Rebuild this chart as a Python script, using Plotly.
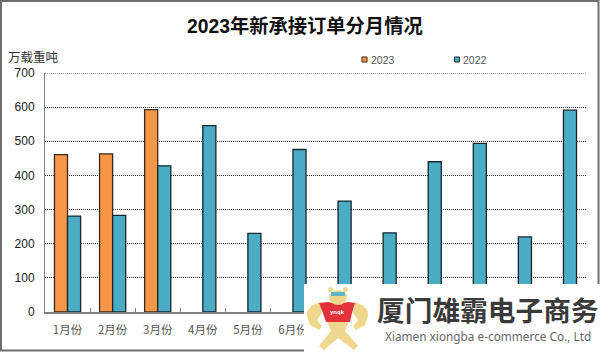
import plotly.graph_objects as go

months = ["1月份","2月份","3月份","4月份","5月份","6月份","7月份","8月份","9月份","10月份","11月份","12月份"]
tick_labels = ["1月份","2月份","3月份","4月份","5月份","6月份","","","","","",""]
y2023 = [461, 463, 593, None, None, None, None, None, None, None, None, None]
y2022 = [281, 283, 428, 546, 230, 476, 325, 232, 440, 494, 220, 591]
y_ticks = [0, 100, 200, 300, 400, 500, 600, 700]
title_text = "2023年新承接订单分月情况"
unit_text = "万载重吨"
brand_cn = "厦门雄霸电子商务"
brand_en = "Xiamen xiongba e-commerce Co., Ltd"
ORANGE, TEAL, EDGE = "#F79646", "#4BACC6", "#16262c"
CJK = "Noto Sans CJK SC"
W, H = 600, 352
L, R, T, B = 45, 586, 73, 312

def px(x): return (x - L) / (R - L)
def py(y): return (B - y) / (B - T)

def note(x, y, text, size, color, anchor="center", family="Liberation Sans, " + CJK, weight=None):
    return dict(xref="paper", yref="paper", x=px(x), y=py(y), text=text, showarrow=False,
                xanchor=anchor, yanchor="middle", font=dict(size=size, color=color, family=family, weight=weight))

def box(x0, y0, x1, y1, fill, line=None, lw=1, kind="rect", layer="above"):
    return dict(type=kind, xref="paper", yref="paper", x0=px(x0), x1=px(x1), y0=py(y0), y1=py(y1),
                fillcolor=fill, line=dict(color=line or fill, width=lw if line else 0), layer=layer)

def poly(points, fill):
    path = "M " + " L ".join(f"{px(a):.5f},{py(b):.5f}" for a, b in points) + " Z"
    return dict(type="path", xref="paper", yref="paper", path=path, fillcolor=fill, line=dict(width=0), layer="above")

fig = go.Figure()
fig.add_bar(name="2023", x=months, y=y2023, marker=dict(color=ORANGE, line=dict(color="#3a2a1c", width=1.3)))
fig.add_bar(name="2022", x=months, y=y2022, marker=dict(color=TEAL, line=dict(color=EDGE, width=1.3)))

BEAR, SHIRT = "#EFD88E", "#E4323A"
shapes = [
    dict(type="line", xref="paper", yref="y", x0=0, x1=1, y0=y_ticks[-1], y1=y_ticks[-1],
         line=dict(color="#333333", width=1, dash="1px,1px"), layer="below"),
    box(1, 1, 598.5, 350.5, "rgba(0,0,0,0)", "#6e6e6e", 2),
    box(362, 57, 367, 62, ORANGE, "#3a2a1c", 1),
    box(454.5, 57, 459.5, 62, TEAL, EDGE, 1),
    box(304, 284, 600, 352, "#ffffff"),
    # mascot legs and body
    poly([(327, 321), (349, 321), (345, 331), (358, 346), (354, 350), (338, 338), (324, 350), (319, 346), (331, 331)], BEAR),
    # arms
    poly([(320, 302), (311, 306), (307, 316), (310, 325), (319, 330), (322, 326), (317, 320), (322, 313)], BEAR),
    poly([(355, 302), (364, 306), (368, 316), (365, 325), (356, 330), (353, 326), (358, 320), (353, 313)], BEAR),
    box(307, 307, 318, 320, BEAR, kind="circle"),
    box(357, 307, 368, 320, BEAR, kind="circle"),
    # shirt
    poly([(319, 303), (328, 302), (338, 304), (348, 302), (355, 303), (352, 313), (350, 322), (326, 322), (323, 313)], SHIRT),
    # head
    box(329, 290, 347, 305, BEAR, kind="circle"),
    box(328, 287, 333, 292, BEAR, kind="circle"),
    box(343, 287, 348, 292, BEAR, kind="circle"),
    box(331, 292, 345, 296, "#5BB7C9"),
]
annotations = [
    note(305, 26, title_text, 19.3, "#111111", weight=700),
    note(6, 57, unit_text, 12.5, "#333333", anchor="left"),
    note(369, 60, "2023", 10.5, "#555555", anchor="left"),
    note(461, 60, "2022", 10.5, "#555555", anchor="left"),
    note(337, 312, "ynqk", 6, "#ffffff", weight=700),
    note(487.5, 309, brand_cn, 27.7, "#3a3a3a", family=CJK, weight=700),
    note(488, 336, brand_en, 11.8, "#666666", family="Noto Sans"),
]

fig.update_layout(
    width=W, height=H, margin=dict(l=L, r=W - R, t=T, b=H - B), autosize=False,
    paper_bgcolor="white", plot_bgcolor="white", showlegend=False,
    barmode="group", bargap=0.42, bargroupgap=0,
    font=dict(family="Liberation Sans, " + CJK, color="#222222"),
    xaxis=dict(type="category", categoryorder="array", categoryarray=months, tickson="boundaries",
               tickmode="array", tickvals=months, ticktext=tick_labels, ticklabelstandoff=6,
               ticks="inside", ticklen=4, tickcolor="#808080", showline=True, linecolor="#808080",
               linewidth=1.5, showgrid=False, tickfont=dict(size=11.5, color="#555555", family=CJK)),
    yaxis=dict(range=[0, 700], tickvals=y_ticks, showgrid=True, gridcolor="#333333", griddash="1px,1px",
               gridwidth=1, showline=True, linecolor="#808080", linewidth=1,
               ticks="outside", ticklen=7, tickcolor="rgba(0,0,0,0)",
               tickfont=dict(size=12, color="#222222"), zeroline=False),
    shapes=shapes, annotations=annotations,
)
fig.write_html("out.html", config={"displayModeBar": False},
               post_script="document.body.style.margin='0';document.body.style.overflow='hidden';")
